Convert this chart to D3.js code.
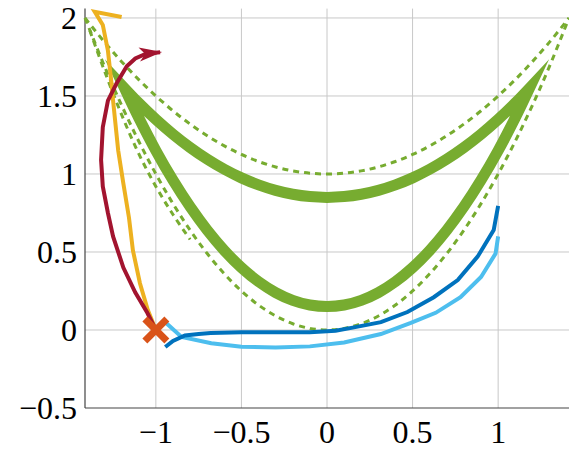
<!DOCTYPE html>
<html>
<head>
<meta charset="utf-8">
<script src="https://cdn.jsdelivr.net/npm/d3@7"></script>
<style>
  body { margin: 0; background: #fff; }
</style>
</head>
<body>
<div id="chart"></div>
<script>
// ---- data ----
var xTicks = [-1, -0.5, 0, 0.5, 1];
var yTicks = [-0.5, 0, 0.5, 1, 1.5, 2];

// dashed parabolas
var parabolaX = [-1.414, -1.3, -1.2, -1.1, -1.0, -0.9, -0.8, -0.7, -0.6, -0.5, -0.4, -0.3, -0.2, -0.1, 0,
                 0.1, 0.2, 0.3, 0.4, 0.5, 0.6, 0.7, 0.8, 0.9, 1.0, 1.1, 1.2, 1.3, 1.414];
var lowDashY = [2.0, 1.69, 1.44, 1.21, 1.0, 0.81, 0.64, 0.49, 0.36, 0.25, 0.16, 0.09, 0.04, 0.01, 0,
                0.01, 0.04, 0.09, 0.16, 0.25, 0.36, 0.49, 0.64, 0.81, 1.0, 1.21, 1.44, 1.69, 2.0];
var highDashY = [2.0, 1.845, 1.72, 1.605, 1.5, 1.405, 1.32, 1.245, 1.18, 1.125, 1.08, 1.045, 1.02, 1.005, 1.0,
                 1.005, 1.02, 1.045, 1.08, 1.125, 1.18, 1.245, 1.32, 1.405, 1.5, 1.605, 1.72, 1.845, 2.0];
// extra dashed piece on the left
var sideDashX = [-1.386, -1.3, -1.2, -1.1, -1.0, -0.9, -0.8];
var sideDashY = [1.92, 1.66, 1.38, 1.13, 0.92, 0.74, 0.58];

// thick green band (upper and lower branch)
var bandX = [-1.183, -1.1, -1.0, -0.9, -0.8, -0.7, -0.6, -0.5, -0.4, -0.3, -0.2, -0.1, 0,
             0.1, 0.2, 0.3, 0.4, 0.5, 0.6, 0.7, 0.8, 0.9, 1.0, 1.1, 1.183];
var bandUpperY = [1.55, 1.455, 1.35, 1.255, 1.17, 1.095, 1.03, 0.975, 0.93, 0.895, 0.87, 0.855, 0.85,
                  0.855, 0.87, 0.895, 0.93, 0.975, 1.03, 1.095, 1.17, 1.255, 1.35, 1.455, 1.55];
var bandLowerY = [1.55, 1.36, 1.15, 0.96, 0.79, 0.64, 0.51, 0.40, 0.31, 0.24, 0.19, 0.16, 0.15,
                  0.16, 0.19, 0.24, 0.31, 0.40, 0.51, 0.64, 0.79, 0.96, 1.15, 1.36, 1.55];

// dark blue path
var blueX = [-0.945, -0.9, -0.83, -0.75, -0.68, -0.5, -0.3, -0.1, 0.05, 0.15, 0.315, 0.47, 0.624, 0.764, 0.88, 0.974, 1.0];
var blueY = [-0.109, -0.07, -0.035, -0.025, -0.02, -0.015, -0.015, -0.015, -0.005, 0.015, 0.05, 0.115, 0.21, 0.32, 0.47, 0.64, 0.795];

// light blue path
var lightX = [-0.94, -0.85, -0.676, -0.5, -0.3, -0.1, 0.1, 0.315, 0.49, 0.635, 0.78, 0.9, 0.985, 1.0];
var lightY = [0.045, -0.045, -0.085, -0.107, -0.112, -0.105, -0.08, -0.026, 0.045, 0.11, 0.21, 0.34, 0.49, 0.6];

// yellow path
var yellowX = [-1.0, -1.047, -1.093, -1.134, -1.157, -1.19, -1.22, -1.25, -1.257, -1.28, -1.31, -1.357, -1.2];
var yellowY = [0.0, 0.128, 0.30, 0.51, 0.72, 0.94, 1.15, 1.47, 1.56, 1.79, 1.955, 2.04, 2.006];

// red path (ends with an arrow)
var redX = [-1.0, -1.05, -1.12, -1.19, -1.25, -1.28, -1.31, -1.32, -1.31, -1.28, -1.23, -1.17, -1.12, -1.06, -0.975];
var redY = [0.0, 0.11, 0.24, 0.40, 0.60, 0.75, 0.92, 1.09, 1.30, 1.47, 1.58, 1.69, 1.74, 1.77, 1.78];

// start marker
var startX = [-1.0];
var startY = [0.0];

// ---- drawing ----
var width = 569, height = 449;
var margin = {top: 8.6, right: 0, bottom: 41, left: 85};
var fontFamily = "'Liberation Serif', 'DejaVu Serif', 'Times New Roman', serif";

var svg = d3.select("#chart").append("svg")
  .attr("width", width)
  .attr("height", height);

var x = d3.scaleLinear().domain([-1.414, 1.414]).range([margin.left, width - margin.right]);
var y = d3.scaleLinear().domain([-0.5, 2.06]).range([height - margin.bottom, margin.top]);

function zipXY(xs, ys) {
  return xs.map(function(v, i) { return [v, ys[i]]; });
}

// grid
svg.append("g")
  .selectAll("line")
  .data(xTicks)
  .enter().append("line")
  .attr("x1", function(d) { return x(d); })
  .attr("x2", function(d) { return x(d); })
  .attr("y1", y.range()[0])
  .attr("y2", y.range()[1])
  .attr("stroke", "#c8c8c8")
  .attr("stroke-width", 1);

svg.append("g")
  .selectAll("line")
  .data(yTicks.filter(function(d) { return d > -0.5; }))
  .enter().append("line")
  .attr("x1", x.range()[0])
  .attr("x2", x.range()[1])
  .attr("y1", function(d) { return y(d); })
  .attr("y2", function(d) { return y(d); })
  .attr("stroke", "#c8c8c8")
  .attr("stroke-width", 1);

// axes lines
svg.append("line")
  .attr("x1", x.range()[0]).attr("x2", x.range()[0])
  .attr("y1", y.range()[0]).attr("y2", y.range()[1])
  .attr("stroke", "#444").attr("stroke-width", 1.2);
svg.append("line")
  .attr("x1", x.range()[0]).attr("x2", x.range()[1])
  .attr("y1", y.range()[0]).attr("y2", y.range()[0])
  .attr("stroke", "#444").attr("stroke-width", 1.2);

function fmt(d) { return d < 0 ? "\u2212" + Math.abs(d) : String(d); }

svg.append("g")
  .selectAll("text")
  .data(xTicks)
  .enter().append("text")
  .attr("font-family", fontFamily)
  .attr("font-size", 32)
  .attr("fill", "#000")
  .attr("x", function(d) { return x(d); })
  .attr("y", 443)
  .attr("text-anchor", "middle")
  .text(fmt);

svg.append("g")
  .selectAll("text")
  .data(yTicks)
  .enter().append("text")
  .attr("font-family", fontFamily)
  .attr("font-size", 32)
  .attr("fill", "#000")
  .attr("x", 77)
  .attr("y", function(d) { return y(d) + 11; })
  .attr("text-anchor", "end")
  .text(fmt);

var plot = svg.append("g");

var smooth = d3.line()
  .x(function(d) { return x(d[0]); })
  .y(function(d) { return y(d[1]); })
  .curve(d3.curveCatmullRom);

var straight = d3.line()
  .x(function(d) { return x(d[0]); })
  .y(function(d) { return y(d[1]); });

// thick green band
var upperD = smooth(zipXY(bandX, bandUpperY));
var lowerD = smooth(zipXY(bandX.slice().reverse(), bandLowerY.slice().reverse()));
plot.append("path")
  .attr("d", upperD + lowerD.replace(/^M/, "L") + "Z")
  .attr("fill", "none")
  .attr("stroke", "#77AC30")
  .attr("stroke-width", 11)
  .attr("stroke-linejoin", "miter")
  .attr("stroke-miterlimit", 10);

// dashed parabolas
[[parabolaX, lowDashY], [parabolaX, highDashY], [sideDashX, sideDashY]].forEach(function(s) {
  plot.append("path")
    .attr("d", smooth(zipXY(s[0], s[1])))
    .attr("fill", "none")
    .attr("stroke", "#77AC30")
    .attr("stroke-width", 3)
    .attr("stroke-dasharray", "6,5");
});

// paths
plot.append("path")
  .attr("d", straight(zipXY(lightX, lightY)))
  .attr("fill", "none").attr("stroke", "#4DBEEE").attr("stroke-width", 4);

plot.append("path")
  .attr("d", straight(zipXY(blueX, blueY)))
  .attr("fill", "none").attr("stroke", "#0072BD").attr("stroke-width", 4);

plot.append("path")
  .attr("d", straight(zipXY(yellowX, yellowY)))
  .attr("fill", "none").attr("stroke", "#EDB120").attr("stroke-width", 4)
  .attr("stroke-linejoin", "miter");

svg.append("defs").append("marker")
  .attr("id", "arrow")
  .attr("viewBox", "-24 -9 26 18")
  .attr("refX", 0).attr("refY", 0)
  .attr("markerUnits", "userSpaceOnUse")
  .attr("markerWidth", 26).attr("markerHeight", 18)
  .attr("orient", "auto")
  .append("path")
  .attr("d", "M2,0 L-21,-7 L-15,0 L-21,7 Z")
  .attr("fill", "#A2142F");

plot.append("path")
  .attr("d", straight(zipXY(redX, redY)))
  .attr("fill", "none").attr("stroke", "#A2142F").attr("stroke-width", 4)
  .attr("marker-end", "url(#arrow)");

// start cross
plot.selectAll(".start")
  .data(zipXY(startX, startY))
  .enter().append("path")
  .attr("class", "start")
  .attr("transform", function(d) { return "translate(" + x(d[0]) + "," + y(d[1]) + ")"; })
  .attr("d", "M-11,-11 L11,11 M-11,11 L11,-11")
  .attr("stroke", "#D95319")
  .attr("stroke-width", 7);
</script>
</body>
</html>
